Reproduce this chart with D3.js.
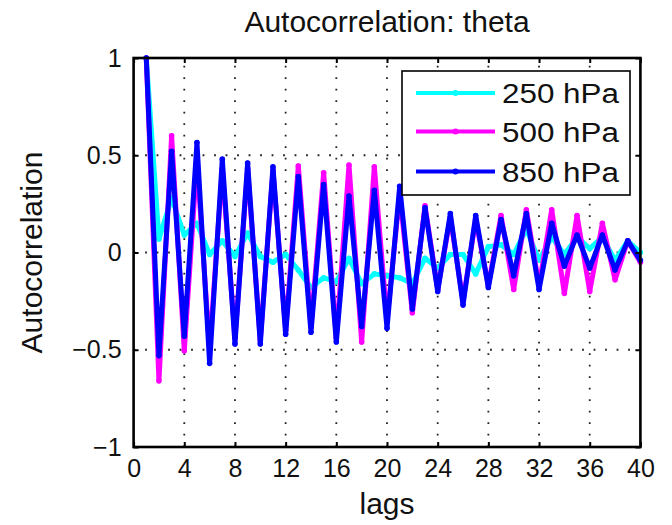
<!DOCTYPE html>
<html><head><meta charset="utf-8">
<script src="https://cdn.jsdelivr.net/npm/d3@7/dist/d3.min.js"></script>
<style>body{margin:0;background:#fff} svg{display:block}</style>
</head><body>
<svg id="c" width="672" height="525"></svg>
<script>
// ---- data ----
const lags = [1,2,3,4,5,6,7,8,9,10,11,12,13,14,15,16,17,18,19,20,21,22,23,24,25,26,27,28,29,30,31,32,33,34,35,36,37,38,39,40];
const acf250 = [1,0.07,0.28,0.09,0.15,-0.01,0.06,-0.02,0.10,-0.02,-0.05,-0.01,-0.09,-0.18,-0.13,-0.15,-0.03,-0.16,-0.11,-0.12,-0.13,-0.16,-0.03,-0.08,-0.01,-0.01,-0.11,0.03,0.04,-0.01,0.12,-0.04,0.08,-0.01,0.08,0.02,0.08,-0.04,0.06,0.0];
const acf500 = [1,-0.66,0.60,-0.505,0.47,-0.50,0.43,-0.44,0.43,-0.45,0.42,-0.40,0.445,-0.38,0.41,-0.44,0.45,-0.46,0.44,-0.35,0.30,-0.31,0.24,-0.19,0.18,-0.25,0.17,-0.17,0.19,-0.19,0.22,-0.17,0.22,-0.21,0.19,-0.20,0.15,-0.14,0.06,-0.05];
const acf850 = [1,-0.53,0.52,-0.43,0.565,-0.57,0.48,-0.47,0.46,-0.47,0.44,-0.42,0.39,-0.41,0.35,-0.46,0.29,-0.38,0.32,-0.39,0.34,-0.29,0.23,-0.20,0.20,-0.27,0.19,-0.18,0.17,-0.12,0.20,-0.19,0.15,-0.07,0.09,-0.08,0.09,-0.09,0.06,-0.04];
const seriesNames = ["250 hPa","500 hPa","850 hPa"];
const seriesColors = ["#00ffff","#ff00ff","#0000ff"];
const xTicks = [0,4,8,12,16,20,24,28,32,36,40];
const yTicks = [-1,-0.5,0,0.5,1];
const yTickLabels = ["\u22121","\u22120.5","0","0.5","1"];
const titleText = "Autocorrelation: theta";
const xLabelText = "lags";
const yLabelText = "Autocorrelation";

// ---- layout ----
const FONT = "'Liberation Sans', Arial, Helvetica, sans-serif";
const L = 133.6, R = 640.4, T = 58, B = 447;
const svg = d3.select("#c");
const x = d3.scaleLinear().domain([0,40]).range([L,R]);
const y = d3.scaleLinear().domain([-1,1]).range([B,T]);

// grid
const grid = svg.append("g").attr("stroke","#222").attr("stroke-width",1.8).attr("stroke-dasharray","1.8 9.7");
grid.selectAll("line.gx").data(xTicks.slice(1,-1)).join("line")
  .attr("x1",d=>x(d)).attr("x2",d=>x(d)).attr("y1",B).attr("y2",T);
grid.selectAll("line.gy").data(yTicks.slice(1,-1)).join("line")
  .attr("y1",d=>y(d)).attr("y2",d=>y(d)).attr("x1",L).attr("x2",R);

// series
const allSeries = [acf250, acf500, acf850];
const line = d3.line().x((d,i)=>x(lags[i])).y(d=>y(d));
allSeries.forEach((s,k)=>{
  svg.append("path").datum(s).attr("d",line).attr("fill","none")
    .attr("stroke",seriesColors[k]).attr("stroke-width",5).attr("stroke-linejoin","round").attr("stroke-linecap","round");
  svg.append("g").selectAll("circle").data(s).join("circle")
    .attr("cx",(d,i)=>x(lags[i])).attr("cy",d=>y(d)).attr("r",2.8).attr("fill",seriesColors[k]);
});

// axes
function styleAxis(g){
  g.select(".domain").remove();
  g.selectAll(".tick line").attr("stroke","#000").attr("stroke-width",2);
  g.selectAll("text").attr("font-family",FONT).attr("font-size",25).attr("fill","#111");
}
svg.append("g").attr("transform",`translate(0,${B})`)
  .call(d3.axisBottom(x).tickValues(xTicks).tickSize(-5).tickPadding(12).tickFormat(d3.format("d"))).call(styleAxis);
svg.append("g").attr("transform",`translate(0,${T})`)
  .call(d3.axisTop(x).tickValues(xTicks).tickSize(-5).tickFormat("")).call(styleAxis);
svg.append("g").attr("transform",`translate(${L},0)`)
  .call(d3.axisLeft(y).tickValues(yTicks).tickSize(-5).tickPadding(12).tickFormat((d,i)=>yTickLabels[i])).call(styleAxis);
svg.append("g").attr("transform",`translate(${R},0)`)
  .call(d3.axisRight(y).tickValues(yTicks).tickSize(-5).tickFormat("")).call(styleAxis);

svg.append("rect").attr("x",L).attr("y",T).attr("width",R-L).attr("height",B-T)
  .attr("fill","none").attr("stroke","#000").attr("stroke-width",2.6);

// labels
svg.append("text").attr("x",(L+R)/2).attr("y",32).attr("text-anchor","middle")
  .attr("font-family",FONT).attr("font-size",30).attr("fill","#111").text(titleText);
svg.append("text").attr("x",(L+R)/2).attr("y",514).attr("text-anchor","middle")
  .attr("font-family",FONT).attr("font-size",30).attr("fill","#111").text(xLabelText);
svg.append("text").attr("transform",`translate(42,${(T+B)/2}) rotate(-90)`).attr("text-anchor","middle")
  .attr("font-family",FONT).attr("font-size",30).attr("fill","#111").text(yLabelText);

// legend
const lg = svg.append("g");
lg.append("rect").attr("x",402).attr("y",71).attr("width",228).attr("height",124)
  .attr("fill","#fff").attr("stroke","#000").attr("stroke-width",1.6);
const rowY = [93, 131.5, 171.5];
seriesNames.forEach((n,k)=>{
  lg.append("line").attr("x1",416).attr("x2",495).attr("y1",rowY[k]).attr("y2",rowY[k])
    .attr("stroke",seriesColors[k]).attr("stroke-width",4.2);
  lg.append("circle").attr("cx",455.5).attr("cy",rowY[k]).attr("r",3).attr("fill",seriesColors[k]);
  lg.append("text").attr("x",502).attr("y",rowY[k]+10).attr("font-family",FONT).attr("font-size",27)
    .attr("textLength",117).attr("lengthAdjust","spacingAndGlyphs").attr("fill","#111").text(n);
});
</script>
</body></html>
